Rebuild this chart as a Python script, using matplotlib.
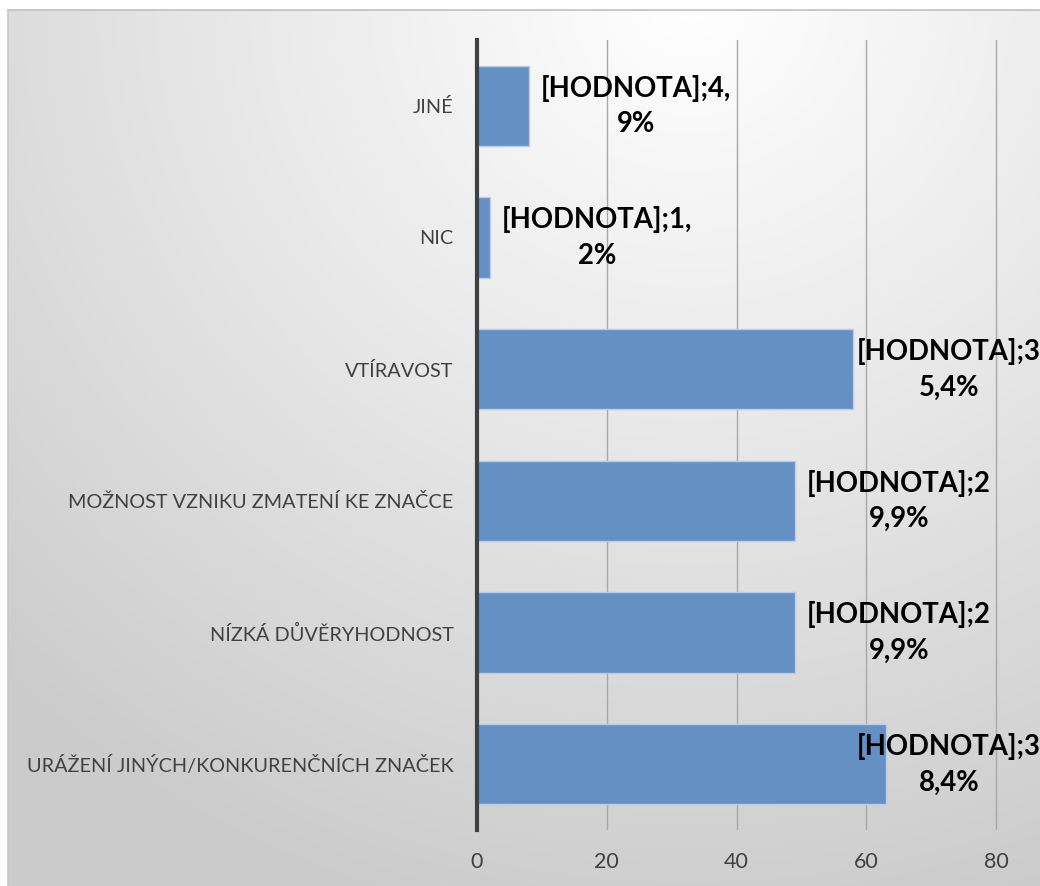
import numpy as np
import matplotlib
matplotlib.use("Agg")
import matplotlib.pyplot as plt
from matplotlib.colors import LinearSegmentedColormap

# --------------------------------------------------
# DATA
# --------------------------------------------------

categories = [
    "JINÉ",
    "NIC",
    "VTÍRAVOST",
    "MOŽNOST VZNIKU ZMATENÍ KE ZNAČCE",
    "NÍZKÁ DŮVĚRYHODNOST",
    "URÁŽENÍ JINÝCH/KONKURENČNÍCH ZNAČEK",
]
counts = [8, 2, 58, 49, 49, 63]
labels = [
    "[HODNOTA];4,\n9%",
    "[HODNOTA];1,\n2%",
    "[HODNOTA];3\n5,4%",
    "[HODNOTA];2\n9,9%",
    "[HODNOTA];2\n9,9%",
    "[HODNOTA];3\n8,4%",
]
x_ticks = [0, 20, 40, 60, 80]

W, H = 1040, 886
TEXT = "#404040"
BAR = "#6590c4"

plt.rcParams["font.family"] = ["Lato", "DejaVu Sans"]

fig = plt.figure(figsize=(W / 100, H / 100), dpi=100)
fig.patch.set_facecolor("white")

# --------------------------------------------------
# CHART AREA BACKGROUND (radial grey gradient)
# --------------------------------------------------

left_px, top_px = 8, 10
bg = fig.add_axes([left_px / W, 0, (W - left_px) / W, (H - top_px) / H])
gx, gy = np.meshgrid(np.arange(left_px, W), np.arange(top_px, H))
r = np.hypot(gx - 690, (gy - 0) * 1.05) / 1000.0
r = np.clip(r, 0, 1)
cmap = LinearSegmentedColormap.from_list("bg", ["#ffffff", "#e6e6e6", "#cbcbcb"])
bg.imshow(r, cmap=cmap, vmin=0, vmax=1, aspect="auto", interpolation="bilinear")
bg.set_axis_off()
# thin border on top and left
fig.add_artist(plt.Line2D([left_px / W, 1], [1 - top_px / H] * 2,
                          color="#c0c0c0", lw=1.2))
fig.add_artist(plt.Line2D([left_px / W] * 2, [0, 1 - top_px / H],
                          color="#c8c8c8", lw=1.2))

# --------------------------------------------------
# BARS
# --------------------------------------------------

x0_px, x1_px = 477, 1126
y_top, y_bot = 40, 830
ax = fig.add_axes([x0_px / W, (H - y_bot) / H, (x1_px - x0_px) / W, (y_bot - y_top) / H])
ax.set_facecolor("none")

ypos = np.arange(len(categories))
ax.barh(ypos, counts, height=0.61, color=BAR, edgecolor="#b9cde8", linewidth=1.0, zorder=3)
ax.set_ylim(len(categories) - 0.5, -0.5)
ax.set_xlim(0, 100)

ax.set_yticks(ypos)
ax.set_yticklabels(categories, fontsize=14.3, color=TEXT)
ax.set_xticks(x_ticks)
ax.set_xticklabels([str(t) for t in x_ticks], fontsize=15.5, color=TEXT)
ax.tick_params(axis="both", length=0)
ax.tick_params(axis="y", pad=17)
ax.tick_params(axis="x", pad=16)

ax.xaxis.grid(True, color="#a8a8a8", lw=1.0, zorder=0)
ax.set_axisbelow(True)
for side in ["top", "right", "bottom"]:
    ax.spines[side].set_visible(False)
ax.spines["left"].set_linewidth(3)
ax.spines["left"].set_color(TEXT)
ax.spines["left"].set_zorder(4)

# --------------------------------------------------
# DATA LABELS
# --------------------------------------------------

texts = []
for yi, v, lab in zip(ypos, counts, labels):
    t = ax.annotate(lab, xy=(v, yi), xytext=(12, 0), textcoords="offset pixels",
                    ha="left", va="center", multialignment="center",
                    fontsize=19.8, fontweight="bold", color="black",
                    linespacing=1.45, zorder=5, annotation_clip=False)
    texts.append(t)

# keep labels inside the chart area
fig.canvas.draw()
limit = W + 1
for t in texts:
    bb = t.get_window_extent()
    if bb.x1 > limit:
        dx, dy = t.xyann
        t.xyann = (dx - (bb.x1 - limit), dy)

fig.savefig("out.png", dpi=100)
plt.close(fig)
